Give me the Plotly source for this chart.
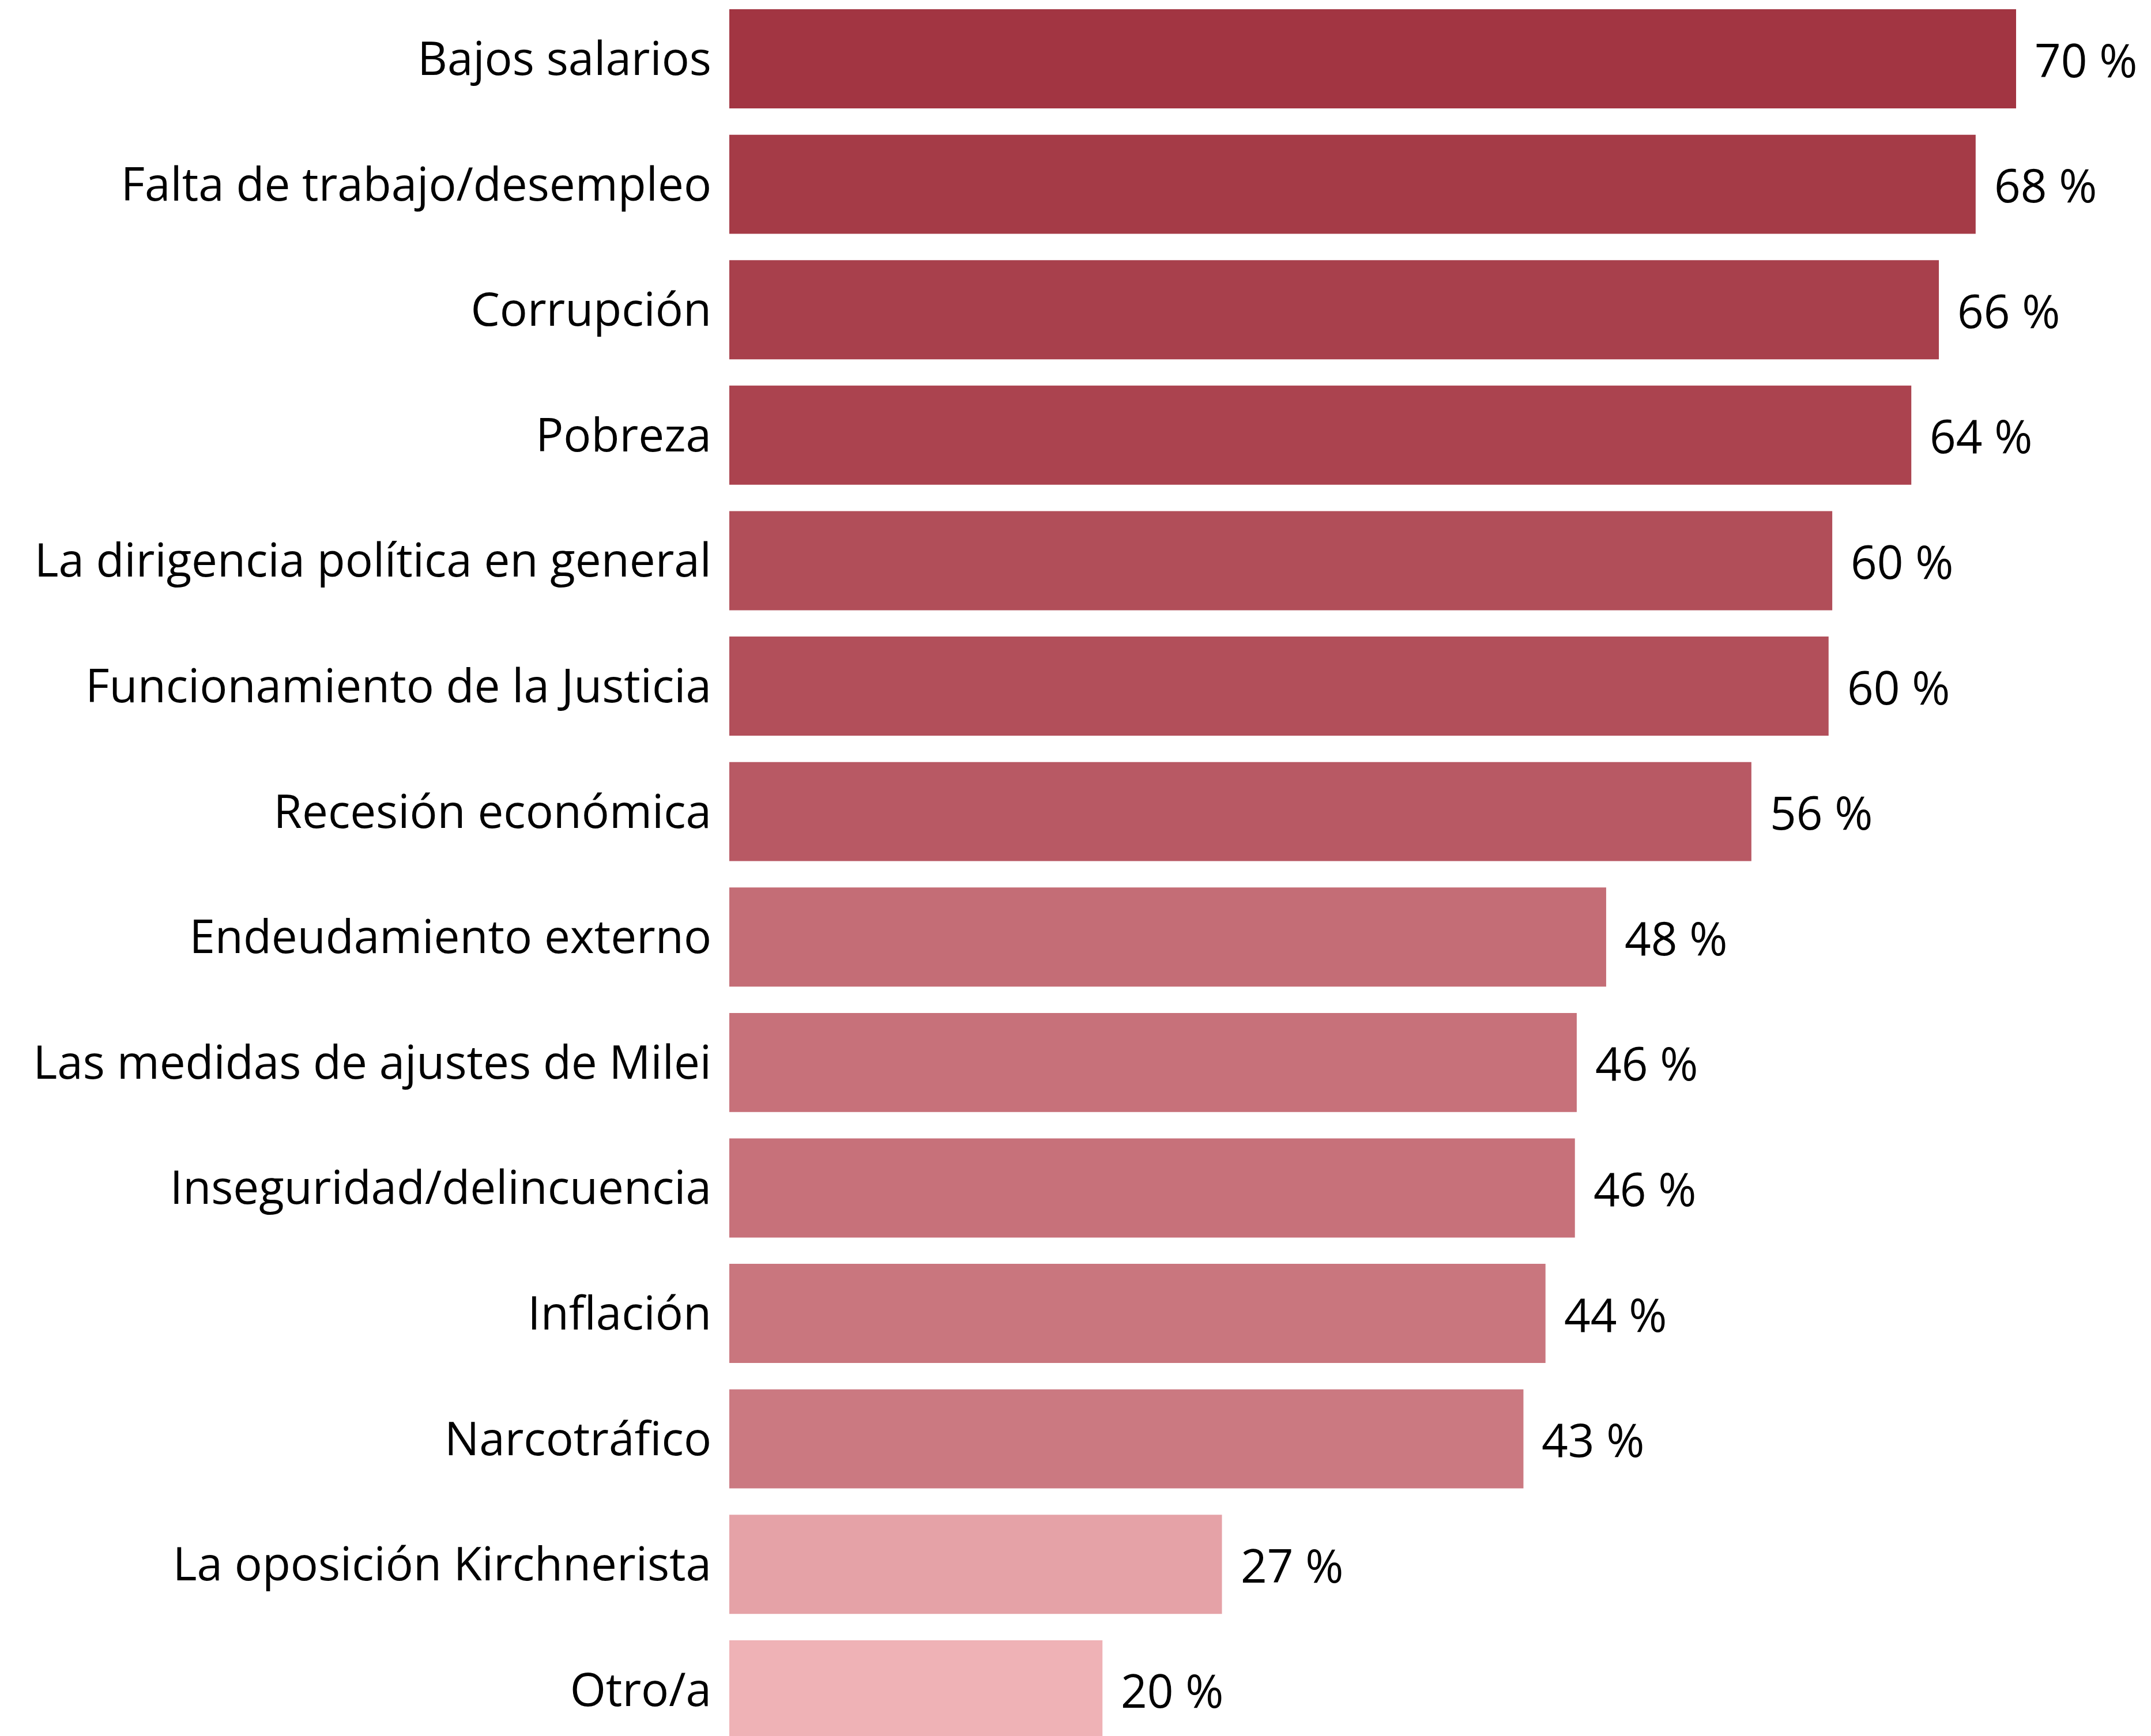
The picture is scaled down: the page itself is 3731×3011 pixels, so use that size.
import plotly.graph_objects as go

categories = [
    "Bajos salarios",
    "Falta de trabajo/desempleo",
    "Corrupción",
    "Pobreza",
    "La dirigencia política en general",
    "Funcionamiento de la Justicia",
    "Recesión económica",
    "Endeudamiento externo",
    "Las medidas de ajustes de Milei",
    "Inseguridad/delincuencia",
    "Inflación",
    "Narcotráfico",
    "La oposición Kirchnerista",
    "Otro/a",
]
values = [70.0, 67.8, 65.8, 64.3, 60.0, 59.8, 55.6, 47.7, 46.1, 46.0, 44.4, 43.2, 26.8, 20.3]
value_labels = [f"{round(v):.0f} %" for v in values]

FONT = "Open Sans"

fig = go.Figure(
    go.Bar(
        x=values,
        y=categories,
        orientation="h",
        marker=dict(
            color=values,
            colorscale=[[0, "#EFB3B7"], [1, "#A23542"]],
            cmin=20,
            cmax=70,
            line=dict(width=0),
        ),
        hoverinfo="skip",
    )
)

for cat, v, lab in zip(categories, values, value_labels):
    fig.add_annotation(
        x=v, y=cat, text=lab, showarrow=False,
        xanchor="left", xshift=30,
        font=dict(family=FONT, size=80, color="#000000"),
    )

# page body has an 8px margin, so offset the plot area to land where the reference has it
fig.update_layout(
    width=3731,
    height=3011,
    margin=dict(l=1257, r=0, t=0, b=0),
    paper_bgcolor="white",
    plot_bgcolor="white",
    bargap=0.21,
    showlegend=False,
    font=dict(family=FONT, size=80, color="#000000"),
)
fig.update_xaxes(range=[0, 77.59], visible=False, showgrid=False, zeroline=False)
fig.update_yaxes(
    range=[13.405, -0.432],
    showgrid=False,
    zeroline=False,
    showline=False,
    ticks="",
    ticklabelstandoff=30,
    automargin=False,
    tickfont=dict(family=FONT, size=80, color="#000000"),
)

fig.write_html("out.html")
